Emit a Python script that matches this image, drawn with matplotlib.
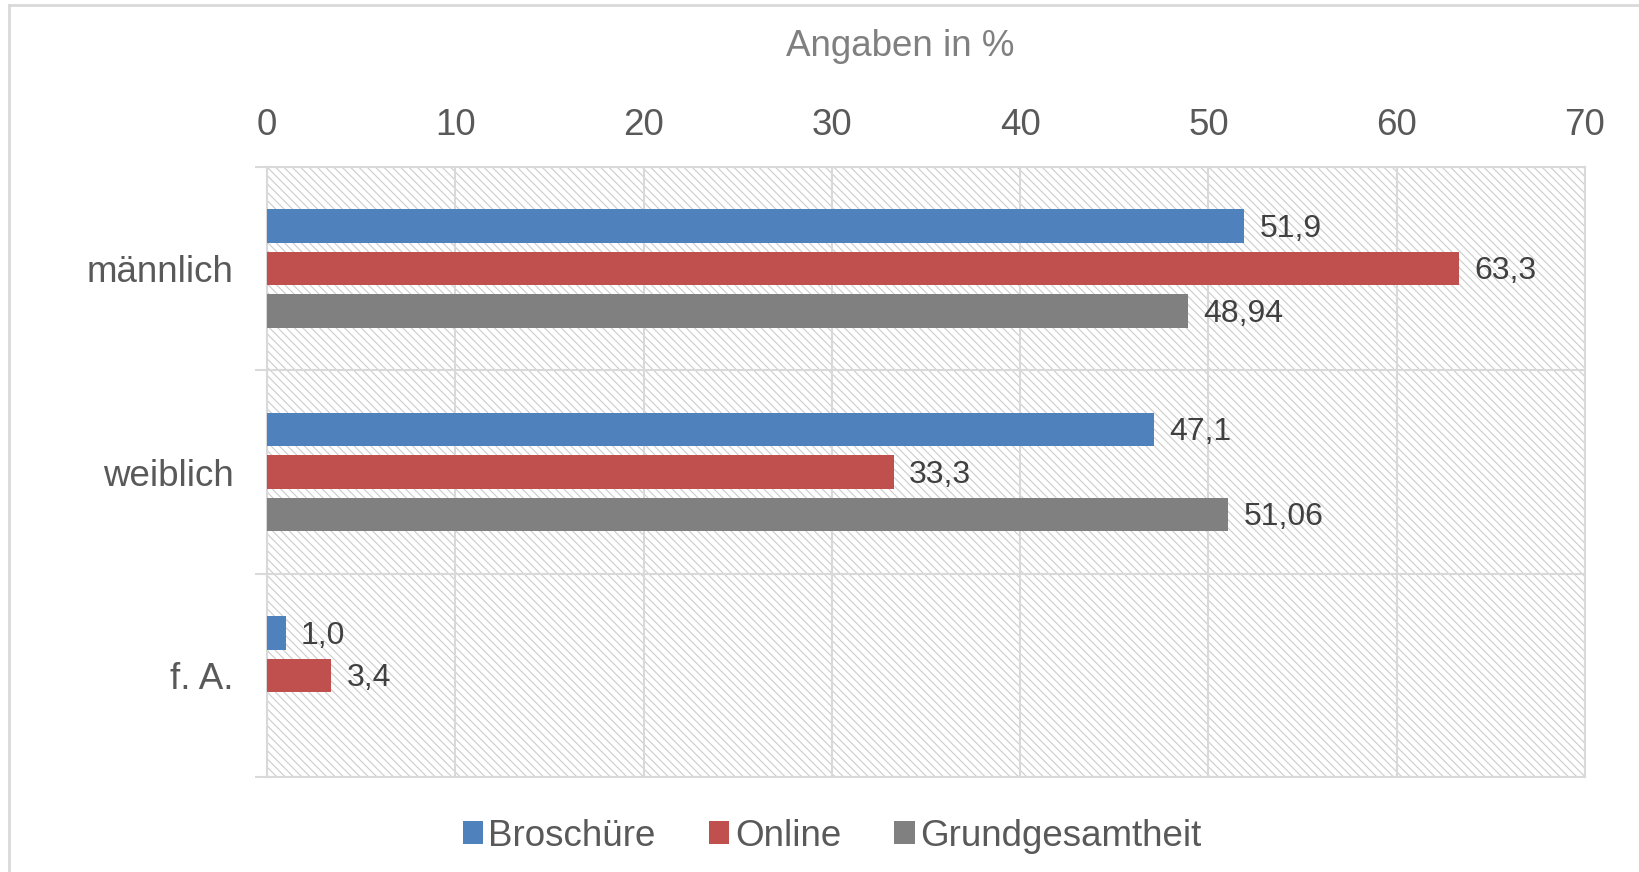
import matplotlib
matplotlib.use("Agg")
import matplotlib.pyplot as plt
from matplotlib.patches import Rectangle, Patch
from matplotlib.lines import Line2D
import numpy as np

plt.rcParams['font.family'] = ['Liberation Sans', 'DejaVu Sans']
plt.rcParams['hatch.linewidth'] = 0.8

categories = ["männlich", "weiblich", "f. A."]
series_names = ["Broschüre", "Online", "Grundgesamtheit"]
broschuere = [51.9, 47.1, 1.0]
online = [63.3, 33.3, 3.4]
grundgesamtheit = [48.94, 51.06, None]
labels = [["51,9", "47,1", "1,0"],
          ["63,3", "33,3", "3,4"],
          ["48,94", "51,06", None]]
x_ticks = [0, 10, 20, 30, 40, 50, 60, 70]

COLORS = ["#4F81BD", "#C0504D", "#808080"]
GRID = "#D9D9D9"
TXT = "#595959"

fig = plt.figure(figsize=(16.4, 8.72), dpi=100)
ax = fig.add_axes([267 / 1640, 1 - 777 / 872, 1318 / 1640, 610 / 872])

# outer chart frame (only left/top visible)
fig.add_artist(Line2D([9 / 1640, 9 / 1640], [0, 1 - 5 / 872], transform=fig.transFigure,
                      color=GRID, lw=2))
fig.add_artist(Line2D([9 / 1640, 1], [1 - 5 / 872, 1 - 5 / 872], transform=fig.transFigure,
                      color=GRID, lw=2))

# hatched plot background
ax.add_patch(Rectangle((0, 0), 1, 1, transform=ax.transAxes, facecolor="white",
                       edgecolor="#CCCCCC", hatch="\\\\\\\\", lw=0, zorder=0))

y = np.arange(len(categories))
height = 0.165
step = 0.209
all_series = [broschuere, online, grundgesamtheit]
for i, vals in enumerate(all_series):
    for j, v in enumerate(vals):
        if v is None:
            continue
        yy = y[j] + (i - 1) * step
        ax.barh(yy, v, height=height, color=COLORS[i], zorder=3)
        ax.annotate(labels[i][j], xy=(v, yy), xytext=(11, -2), textcoords="offset points",
                    ha="left", va="center", fontsize=23, color="#404040", zorder=4)

ax.set_xlim(0, 70)
ax.set_ylim(2.5, -0.5)
ax.xaxis.tick_top()
ax.set_xticks(x_ticks)
ax.set_xticklabels([str(t) for t in x_ticks])
ax.set_yticks(y)
ax.set_yticklabels(categories)
ax.set_yticks([-0.5, 0.5, 1.5, 2.5], minor=True)
ax.tick_params(axis="x", which="both", length=0, pad=17, labelsize=26.5, labelcolor=TXT)
ax.tick_params(axis="y", which="major", length=0, pad=24, labelsize=26.5, labelcolor=TXT)
ax.tick_params(axis="y", which="minor", length=9, width=1.5, color=GRID, direction="out")

ax.grid(axis="x", which="major", color=GRID, lw=1.5, zorder=1)
ax.grid(axis="y", which="minor", color=GRID, lw=1.5, zorder=1)
ax.set_axisbelow(True)
for s in ax.spines.values():
    s.set_color(GRID)
    s.set_linewidth(1.5)

fig.text(900 / 1640, 1 - 47 / 872, "Angaben in %", ha="center", va="center",
         fontsize=26.5, color="#808080")

handles = [Patch(facecolor=c, edgecolor="none") for c in COLORS]
fig.legend(handles, series_names, loc="center", bbox_to_anchor=(832 / 1640, 1 - 836 / 872),
           ncol=3, frameon=False, fontsize=26.5, labelcolor=TXT, handlelength=0.55,
           handleheight=0.55, handletextpad=0.15, columnspacing=1.45)

fig.savefig("out.png", dpi=100)
